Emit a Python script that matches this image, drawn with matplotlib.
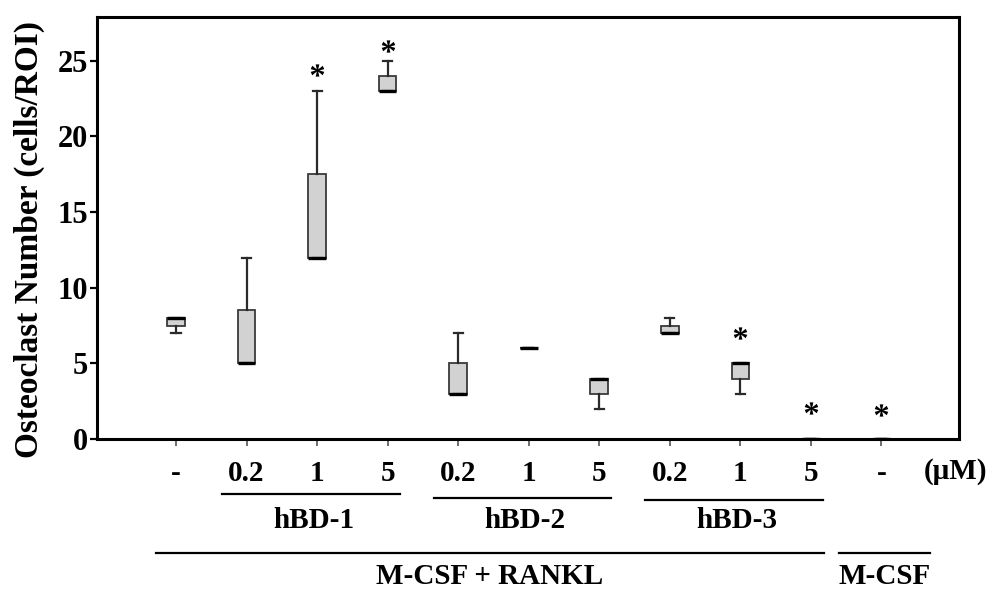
import matplotlib
matplotlib.use("Agg")
import matplotlib.pyplot as plt
from matplotlib.path import Path
from matplotlib.textpath import TextPath
from matplotlib.font_manager import FontProperties

# groups along the x axis (positions 1..11)
dose_labels = ['-', '0.2', '1', '5', '0.2', '1', '5', '0.2', '1', '5', '-']
positions = list(range(1, 12))

# box statistics (cells/ROI)
q1 = [7.5, 5, 12, 23, 3, 6, 3, 7, 4, 0, 0]
med = [8, 5, 12, 23, 3, 6, 4, 7, 5, 0, 0]
q3 = [8, 8.5, 17.5, 24, 5, 6, 4, 7.5, 5, 0, 0]
whislo = [7, 5, 12, 23, 3, 6, 2, 7, 3, 0, 0]
whishi = [8, 12, 23, 25, 7, 6, 4, 8, 5, 0, 0]

# significance stars
star_pos = [3, 4, 9, 10, 11]
star_y = [24.4, 26.0, 7.0, 2.05, 1.9]

# peptide groups (first, last position) and treatment groups
peptides = ['hBD-1', 'hBD-2', 'hBD-3']
peptide_span = [(2, 4), (5, 7), (8, 10)]
treatments = ['M-CSF + RANKL', 'M-CSF']
treatment_span = [(1, 10), (11, 11)]

FONT = 'Liberation Serif'
plt.rcParams['font.family'] = FONT
plt.rcParams['font.weight'] = 'bold'

fig = plt.figure(figsize=(9.96, 5.92), dpi=100)
ax = fig.add_axes([0.0974, 0.2584, 0.8655, 0.7129])

stats = []
for i in range(len(positions)):
    stats.append(dict(q1=q1[i], med=med[i], q3=q3[i],
                      whislo=whislo[i], whishi=whishi[i], fliers=[]))

ax.bxp(stats, positions=positions, widths=0.25, capwidths=0.13,
       patch_artist=True, showfliers=False,
       boxprops=dict(facecolor='#d2d2d2', edgecolor='#3a3a3a', linewidth=1.3),
       medianprops=dict(color='black', linewidth=2.4, solid_capstyle='butt'),
       whiskerprops=dict(color='#2a2a2a', linewidth=1.6),
       capprops=dict(color='#2a2a2a', linewidth=1.6))

# asterisk marker built from the font glyph, centred on its own box
tp = TextPath((0, 0), '*', size=1, prop=FontProperties(family=FONT, weight='bold'))
ext = tp.get_extents()
star = Path(tp.vertices - [ext.x0 + ext.width / 2, ext.y0 + ext.height / 2], tp.codes)
ax.plot(star_pos, star_y, ls='none', marker=star, ms=22, mew=0,
        color='black', clip_on=False)

ax.set_xlim(-0.12, 12.1)
ax.set_ylim(0, 27.9)
ax.set_yticks([0, 5, 10, 15, 20, 25])
ax.set_xticks(positions)
ax.set_xticklabels(dose_labels)

for s in ax.spines.values():
    s.set_linewidth(2.2)
    s.set_zorder(5)

ax.tick_params(axis='y', direction='out', length=5, width=1.6, pad=1.5,
               labelsize=22)
ax.tick_params(axis='x', direction='out', length=5, width=1.2, color='#555555',
               pad=10, labelsize=21)
for lab in ax.get_xticklabels() + ax.get_yticklabels():
    lab.set_fontweight('bold')

ax.text(12.05, -0.076, '(\u03bcM)', transform=ax.get_xaxis_transform(),
        ha='center', va='center', fontsize=21, fontweight='bold')

fig.text(0.029, 0.595, 'Osteoclast Number (cells/ROI)', rotation=90,
         ha='center', va='center', fontsize=24, fontweight='bold')

trans = ax.get_xaxis_transform()
line_y = [-0.130, -0.140, -0.145]
for name, (a, b), ly in zip(peptides, peptide_span, line_y):
    ax.plot([a - 0.35, b + 0.17], [ly, ly], color='black', lw=1.6,
            transform=trans, clip_on=False)
    ax.text((a + b) / 2 - 0.05, -0.192, name, transform=trans, ha='center',
            va='center', fontsize=21, fontweight='bold')

tr_x = [(0.72, 10.18), (10.4, 11.69)]
for name, (a, b) in zip(treatments, tr_x):
    ax.plot([a, b], [-0.270, -0.270], color='black', lw=1.6,
            transform=trans, clip_on=False)
    ax.text((a + b) / 2, -0.325, name, transform=trans, ha='center',
            va='center', fontsize=21, fontweight='bold')

fig.savefig('out.png', dpi=100)
